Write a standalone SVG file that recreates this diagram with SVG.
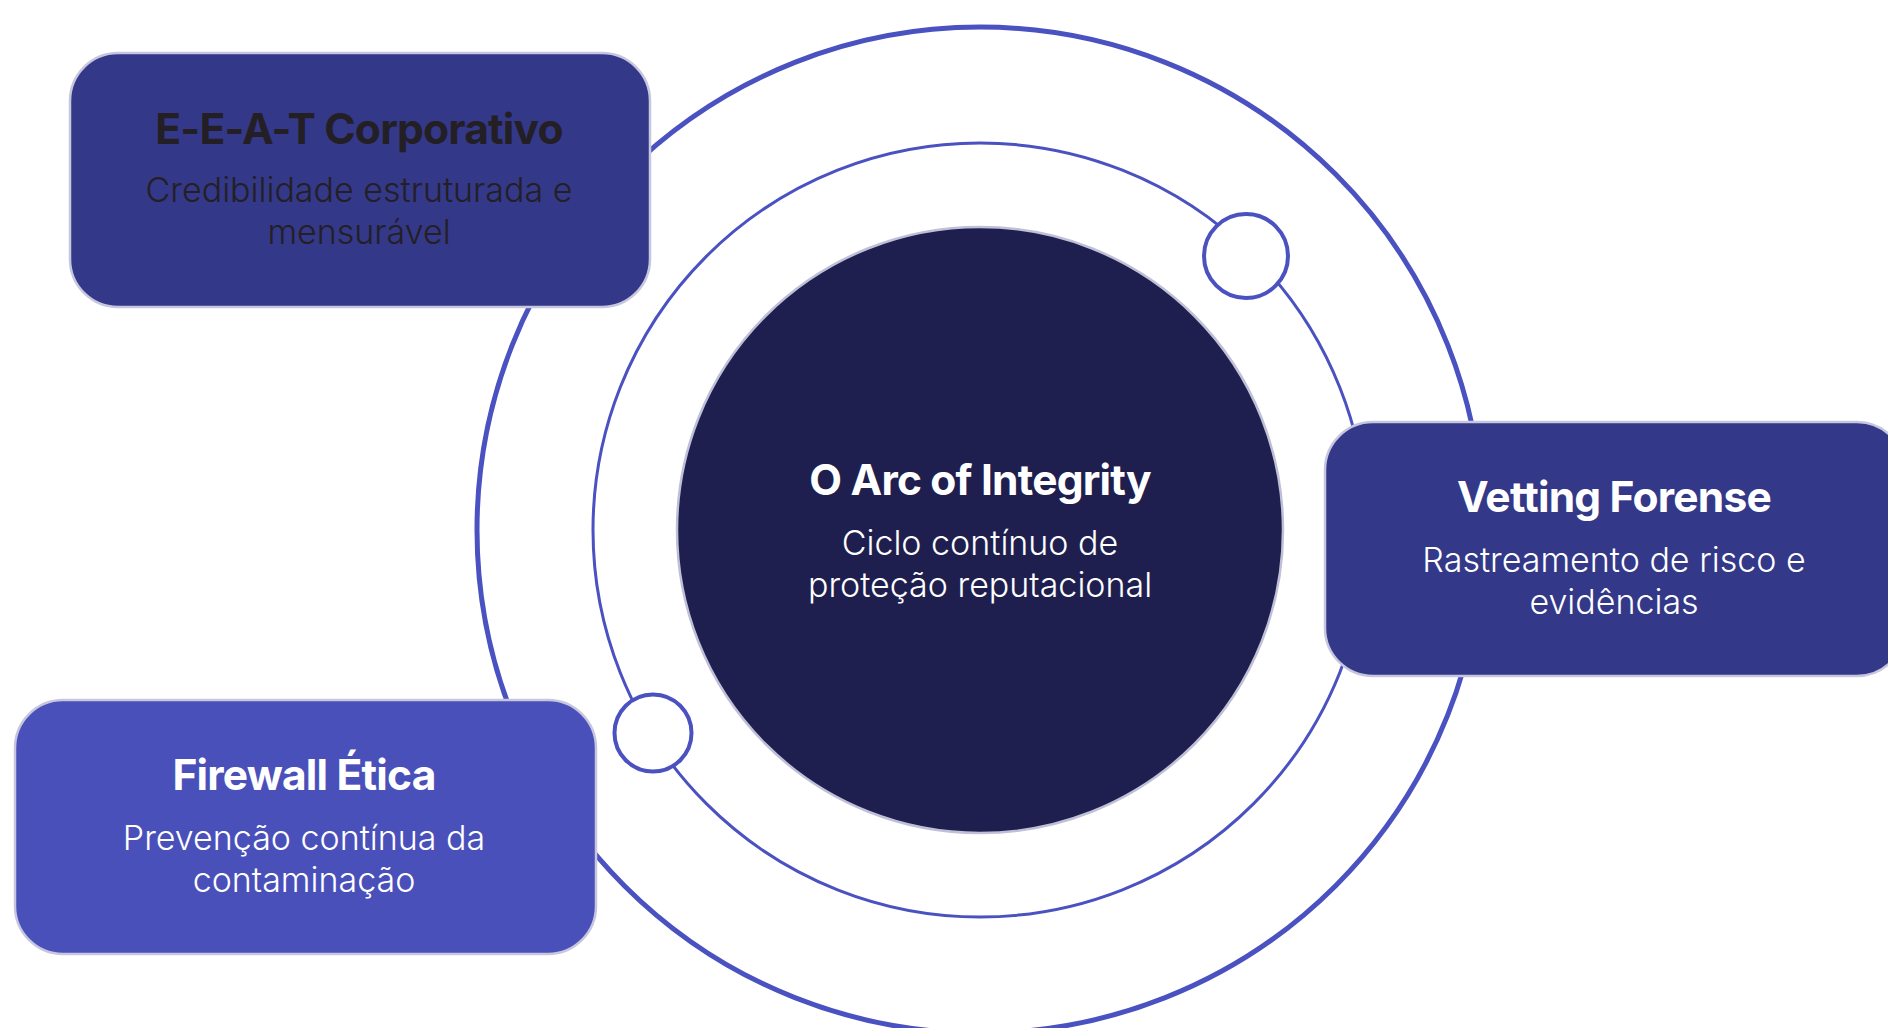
<svg xmlns="http://www.w3.org/2000/svg" width="1888" height="1028" viewBox="0 0 1888 1028">
<style>
.ring{fill:none;stroke:#4A51C0}
.dot{fill:#FFFFFF;stroke:#4A51C0;stroke-width:4}
.box{stroke:#C6C7DE;stroke-width:2.5}
.t{font-family:Inter,"Noto Sans",sans-serif;font-weight:700;font-size:42.5px;text-anchor:middle;letter-spacing:-0.8px}
.s{font-family:Inter,"Noto Sans",sans-serif;font-weight:300;font-size:34px;text-anchor:middle}
</style>
<rect width="1888" height="1028" fill="#FFFFFF"/>
<g id="connectors">
<circle class="ring" cx="980" cy="530" r="503" stroke-width="5"/>
<circle class="ring" cx="980" cy="530" r="387" stroke-width="3"/>
</g>
<g id="dot-1"><circle class="dot" cx="1246" cy="256" r="42"/></g>
<g id="dot-2"><circle class="dot" cx="653" cy="733" r="38.5"/></g>
<g id="core">
<circle cx="980" cy="530" r="303" fill="#1F1F4F" stroke="#BFC0D8" stroke-width="2.5"/>
<text class="t" x="980" y="495" fill="#FFFFFF">O Arc of Integrity</text>
<text class="s" x="980" y="555" fill="#FFFFFF">Ciclo contínuo de</text>
<text class="s" x="980" y="597" fill="#FFFFFF">proteção reputacional</text>
</g>
<g id="eeat">
<rect class="box" x="70" y="53" width="580" height="254" rx="48" fill="#333888"/>
<text class="t" x="359" y="144" fill="#231F24">E-E-A-T Corporativo</text>
<text class="s" x="359" y="202" fill="#231F24">Credibilidade estruturada e</text>
<text class="s" x="359" y="244" fill="#231F24">mensurável</text>
</g>
<g id="vetting">
<rect class="box" x="1325" y="422" width="580" height="254" rx="48" fill="#333888"/>
<text class="t" x="1614" y="512" fill="#FFFFFF">Vetting Forense</text>
<text class="s" x="1614" y="572" fill="#FFFFFF">Rastreamento de risco e</text>
<text class="s" x="1614" y="614" fill="#FFFFFF">evidências</text>
</g>
<g id="firewall">
<rect class="box" x="15" y="700" width="581" height="254" rx="48" fill="#4A50BA"/>
<text class="t" x="304" y="790" fill="#FFFFFF">Firewall Ética</text>
<text class="s" x="304" y="850" fill="#FFFFFF">Prevenção contínua da</text>
<text class="s" x="304" y="892" fill="#FFFFFF">contaminação</text>
</g>
</svg>
